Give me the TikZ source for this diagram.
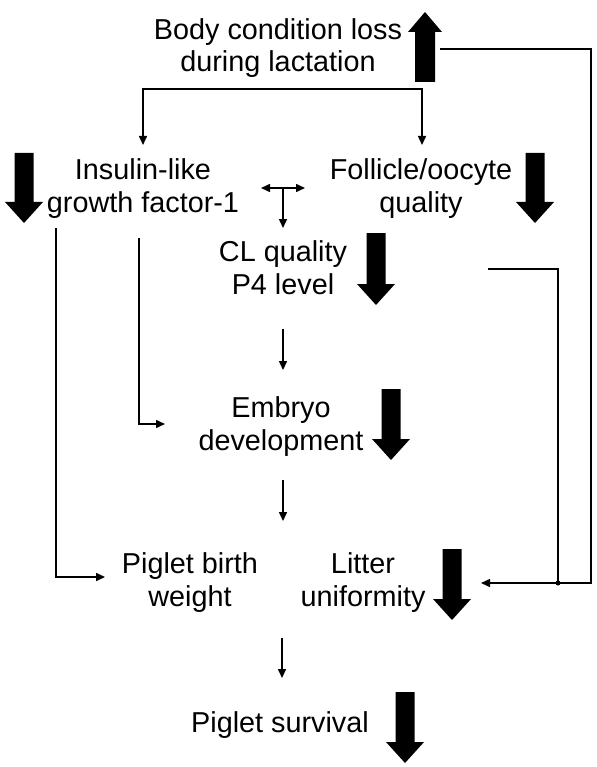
\documentclass[tikz,border=0pt]{standalone}
\usepackage{fontspec}
\setmainfont{Liberation Sans}
\usetikzlibrary{arrows.meta}
\newcommand\thickdown[3]{% center x, top y, tip y
  \fill (#1-9.5,#2) -- (#1+9.5,#2) -- (#1+9.5,#3-21) -- (#1+19,#3-21) -- (#1,#3)
        -- (#1-19,#3-21) -- (#1-9.5,#3-21) -- cycle;}
\begin{document}
\begin{tikzpicture}[x=1pt,y=-1pt,
  lbl/.style={align=center, font=\fontsize{28.8}{32.5}\selectfont, inner sep=0pt, anchor=base},
  conn/.style={line width=1.5pt, -{Triangle[length=9pt,width=8pt]}},
  both/.style={line width=1.5pt, {Triangle[length=9pt,width=8pt]}-{Triangle[length=9pt,width=8pt]}},
  plain/.style={line width=1.5pt}]
\useasboundingbox (0,0) rectangle (596,767);

% labels (anchor = baseline of last line)
\node[lbl] (body) at (278,72) {Body condition loss\\during lactation};
\node[lbl] (igf)  at (143,212) {Insulin-like\\growth factor-1};
\node[lbl] (foll) at (421,212) {Follicle/oocyte\\quality};
\node[lbl] (cl)   at (283,294) {CL quality\\P4 level};
\node[lbl] (emb)  at (281,450) {Embryo\\development};
\node[lbl] (pbw)  at (190,606) {Piglet birth\\weight};
\node[lbl] (lit)  at (363,606) {Litter\\uniformity};
\node[lbl] (surv) at (280,732) {Piglet survival};

% thick arrows
\fill (425-10,82) -- (425+10,82) -- (425+10,32) -- (425+17,32) -- (425,12)
      -- (425-17,32) -- (425-10,32) -- cycle;
\thickdown{24}{153}{223}
\thickdown{535}{153}{223}
\thickdown{376}{233}{305}
\thickdown{391}{389}{460}
\thickdown{452}{549}{620}
\thickdown{405}{692}{763}

% coordinates
\coordinate (bsL) at (143,89);
\coordinate (bsR) at (422,89);
\coordinate (igfin) at (143,145);
\coordinate (follin) at (422,145);
\coordinate (tL) at (261,188);
\coordinate (tR) at (305,188);
\coordinate (tM) at (283,188);
\coordinate (tD) at (283,228);
\coordinate (clout) at (283,329);
\coordinate (embin) at (283,370);
\coordinate (embout) at (283,480);
\coordinate (pbwin) at (283,521);
\coordinate (pbwout) at (282,638);
\coordinate (survin) at (282,678);
\coordinate (igfA) at (139,238);
\coordinate (igfAend) at (165,424);
\coordinate (igfB) at (56,228);
\coordinate (igfBend) at (105,577);
\coordinate (upout) at (440,49);
\coordinate (outer) at (591,583);
\coordinate (clright) at (488,269);
\coordinate (junc) at (558,583);
\coordinate (litin) at (481,583);

% connectors
\draw[both] (igfin) -- (bsL) -- (bsR) -- (follin);
\draw[both] (tL) -- (tR);
\draw[conn] (tM) -- (tD);
\draw[conn] (clout) -- (embin);
\draw[conn] (embout) -- (pbwin);
\draw[conn] (pbwout) -- (survin);
\draw[conn] (igfA) |- (igfAend);
\draw[conn] (igfB) |- (igfBend);
\draw[plain] (upout) -| (outer) -- (junc);
\draw[conn] (clright) -| (junc) -- (litin);
\fill (junc) circle (2.5pt);
\end{tikzpicture}
\end{document}
